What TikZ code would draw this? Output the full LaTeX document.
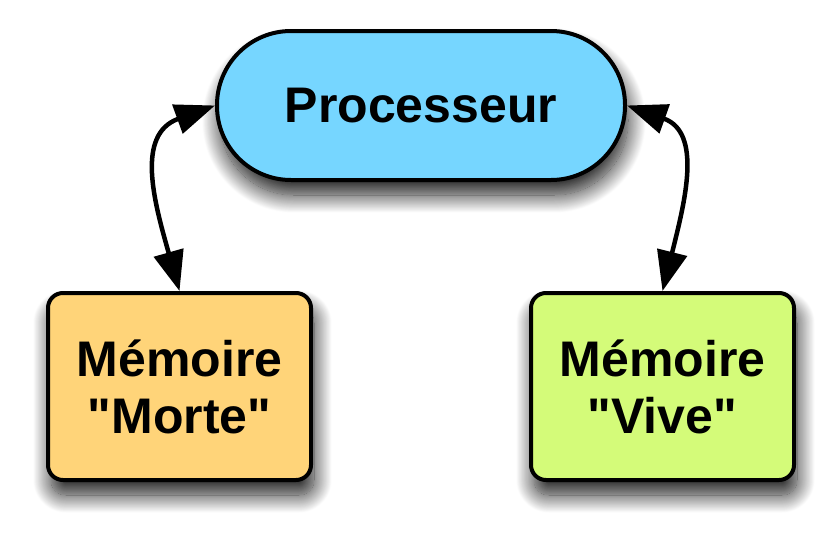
\documentclass[tikz,border=0pt]{standalone}
\usepackage{fontspec}
\setmainfont{Liberation Sans}[Ligatures=TeXOff]
\usetikzlibrary{arrows.meta,shadows.blur}
\definecolor{sky}{HTML}{76D6FF}
\definecolor{cantaloupe}{HTML}{FFD479}
\definecolor{honeydew}{HTML}{D4FB79}
\begin{document}
\begin{tikzpicture}[x=1pt,y=-1pt,
  boxshadow/.style={blur shadow={shadow xshift=3pt, shadow yshift=-15pt, shadow blur radius=18pt, shadow opacity=90, shadow blur steps=24}},
  basebox/.style={draw=black, line width=4pt, boxshadow, align=center,
    font=\bfseries\fontsize{50}{57}\selectfont, inner sep=0pt},
  procbox/.style={basebox, fill=sky, rounded corners=74pt, minimum width=408pt, minimum height=149pt},
  membox/.style={basebox, rounded corners=15pt, minimum width=263pt, minimum height=187pt},
  link/.style={line width=4.5pt, {Triangle[length=40pt,width=30pt]}-{Triangle[length=40pt,width=30pt]}}
]
\useasboundingbox (0,0) rectangle (837,541);
\node[procbox] (proc) at (421,105.5) {Processeur};
\node[membox, fill=cantaloupe] (rom) at (179.5,386.5) {Mémoire\\"Morte"};
\node[membox, fill=honeydew] (ram) at (662.5,386.5) {Mémoire\\"Vive"};
\draw[link] (proc.west) .. controls +(-80,29) and +(-25,-88) .. (rom.north);
\draw[link] (proc.east) .. controls +(76,27) and +(22,-88) .. (ram.north);
\end{tikzpicture}
\end{document}
